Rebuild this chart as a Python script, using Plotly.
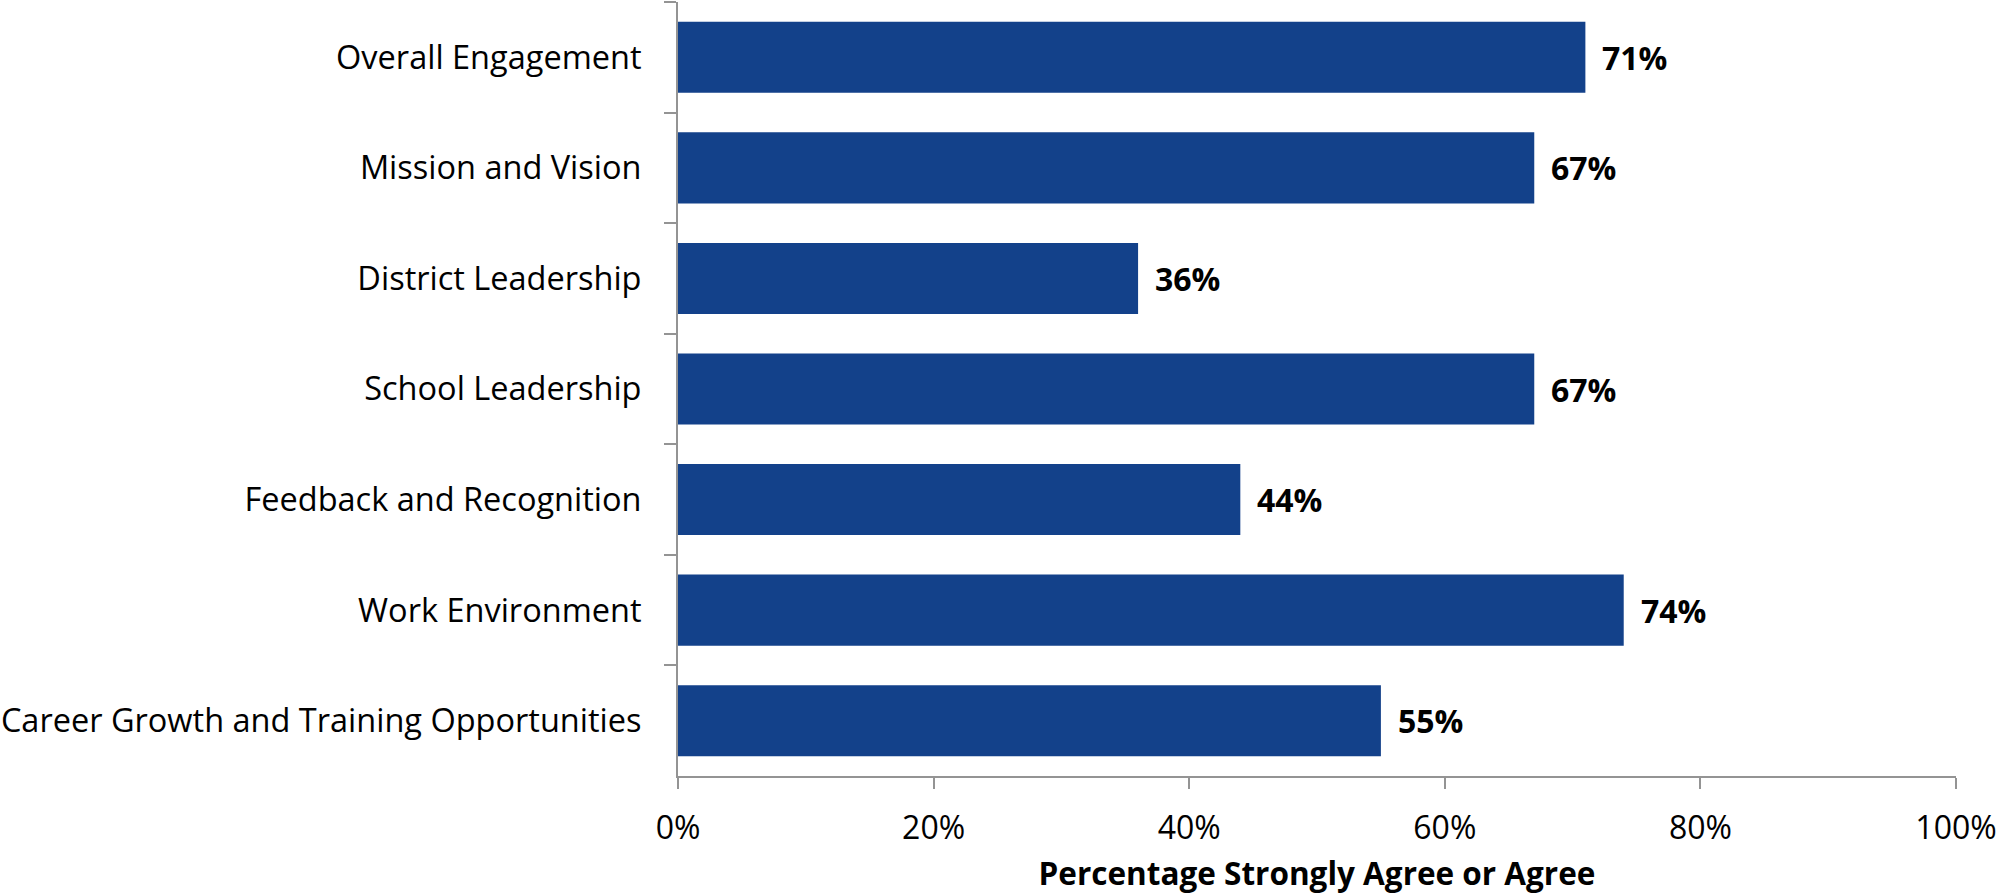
import plotly.graph_objects as go

# Survey dimensions, listed top to bottom
categories = [
    "Overall Engagement",
    "Mission and Vision",
    "District Leadership",
    "School Leadership",
    "Feedback and Recognition",
    "Work Environment",
    "Career Growth and Training Opportunities",
]
# Share of respondents who strongly agree or agree (%)
pct_agree = [71, 67, 36, 67, 44, 74, 55]
value_labels = ["71%", "67%", "36%", "67%", "44%", "74%", "55%"]

x_ticks = [0, 20, 40, 60, 80, 100]
x_tick_text = ["0%", "20%", "40%", "60%", "80%", "100%"]

BAR_COLOR = "#13418A"
AXIS_COLOR = "#949494"
FONT = "Open Sans"

fig = go.Figure()
fig.add_trace(
    go.Bar(
        x=pct_agree,
        y=categories,
        orientation="h",
        marker=dict(color=BAR_COLOR, line=dict(width=0)),
        hoverinfo="skip",
    )
)

# Bold value labels just past the end of each bar
for cat, val, lab in zip(categories, pct_agree, value_labels):
    fig.add_annotation(
        x=val,
        y=cat,
        text=f"<b>{lab}</b>",
        showarrow=False,
        xanchor="left",
        yanchor="middle",
        xshift=15,
        font=dict(family=FONT, size=32, color="black"),
    )

fig.update_layout(
    width=1997,
    height=894,
    margin=dict(l=678, r=41, t=2, b=118),
    paper_bgcolor="white",
    plot_bgcolor="white",
    bargap=0.357,
    showlegend=False,
    font=dict(family=FONT, size=32, color="black"),
    xaxis=dict(
        range=[0, 100],
        tickvals=x_ticks,
        ticktext=x_tick_text,
        showgrid=False,
        zeroline=False,
        showline=True,
        linecolor=AXIS_COLOR,
        linewidth=2,
        ticks="outside",
        ticklen=11,
        tickwidth=2,
        tickcolor=AXIS_COLOR,
        ticklabelstandoff=12,
        automargin=False,
        tickfont=dict(family=FONT, size=32, color="black"),
        title=dict(
            text="<b>Percentage Strongly Agree or Agree</b>",
            font=dict(family=FONT, size=31.5, color="black"),
            standoff=30,
        ),
    ),
    yaxis=dict(
        autorange="reversed",
        categoryorder="array",
        categoryarray=categories,
        showgrid=False,
        zeroline=False,
        showline=True,
        linecolor=AXIS_COLOR,
        linewidth=2,
        ticks="outside",
        tickson="boundaries",
        ticklen=12,
        tickwidth=2,
        tickcolor=AXIS_COLOR,
        ticklabelstandoff=28,
        automargin=False,
        tickfont=dict(family=FONT, size=32.5, color="black"),
    ),
)

fig.write_html("out.html")
